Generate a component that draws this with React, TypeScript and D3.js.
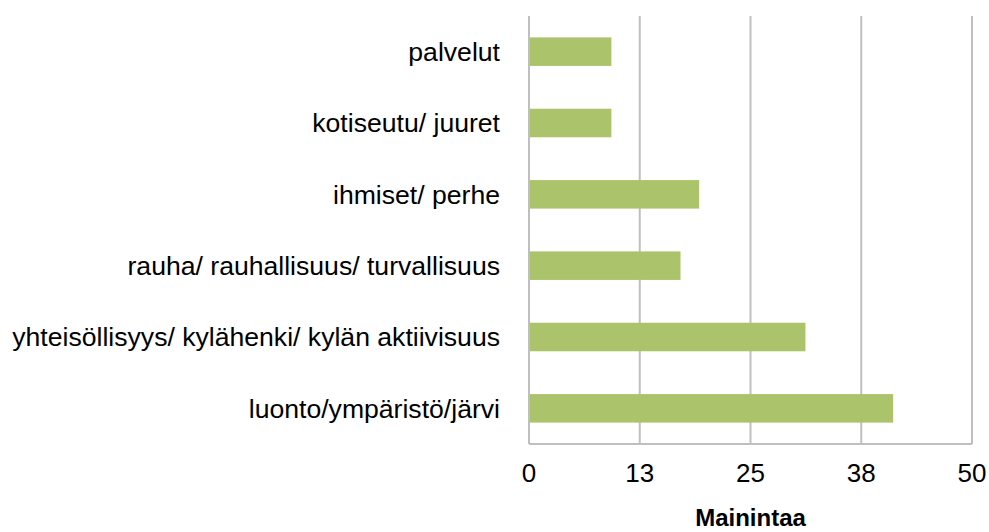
import React from 'react';
import * as d3 from 'd3';

const categories = [
  'palvelut',
  'kotiseutu/ juuret',
  'ihmiset/ perhe',
  'rauha/ rauhallisuus/ turvallisuus',
  'yhteisöllisyys/ kylähenki/ kylän aktiivisuus',
  'luonto/ympäristö/järvi',
];
const values = [9.3, 9.3, 19.2, 17.1, 31.2, 41.1];
const tickValues = [0, 12.5, 25, 37.5, 50];
const axisTitle = 'Mainintaa';

const W = 989;
const H = 532;
const margin = { top: 16, right: 17, bottom: 88, left: 529 };
const font = '"Liberation Sans", Arial, Helvetica, sans-serif';

export default function App() {
  const innerW = W - margin.left - margin.right;
  const innerH = H - margin.top - margin.bottom;

  const x = d3.scaleLinear().domain([0, 50]).range([0, innerW]);
  const y = d3.scaleBand().domain(categories).range([0, innerH]).paddingInner(0.6).paddingOuter(0.3);

  return (
    <svg width={W} height={H} style={{ position: 'absolute', left: 0, top: 0, background: '#fff' }}>
      <g transform={`translate(${margin.left},${margin.top})`}>
        {/* gridlines */}
        {tickValues.map((t) => (
          <line key={t} x1={x(t)} x2={x(t)} y1={0} y2={innerH} stroke="#bfbfbf" strokeWidth={2} />
        ))}
        <line x1={0} x2={innerW} y1={innerH} y2={innerH} stroke="#bfbfbf" strokeWidth={2} />

        {/* bars */}
        {categories.map((c, i) => (
          <rect key={c} x={x(0) + 1} y={y(c)} width={x(values[i]) - x(0) - 1} height={y.bandwidth()} fill="#abc46b" />
        ))}

        {/* category labels */}
        {categories.map((c) => (
          <text
            key={c}
            x={-29}
            y={(y(c) ?? 0) + y.bandwidth() / 2}
            dy="0.35em"
            textAnchor="end"
            fontFamily={font}
            fontSize={26.6}
            fill="#000"
          >
            {c}
          </text>
        ))}

        {/* tick labels */}
        {tickValues.map((t) => (
          <text
            key={t}
            x={x(t)}
            y={innerH + 38}
            textAnchor="middle"
            fontFamily={font}
            fontSize={26}
            fill="#000"
          >
            {Math.round(t)}
          </text>
        ))}

        <text
          x={innerW / 2}
          y={innerH + 82}
          textAnchor="middle"
          fontFamily={font}
          fontSize={24}
          fontWeight="bold"
          fill="#000"
        >
          {axisTitle}
        </text>
      </g>
    </svg>
  );
}
